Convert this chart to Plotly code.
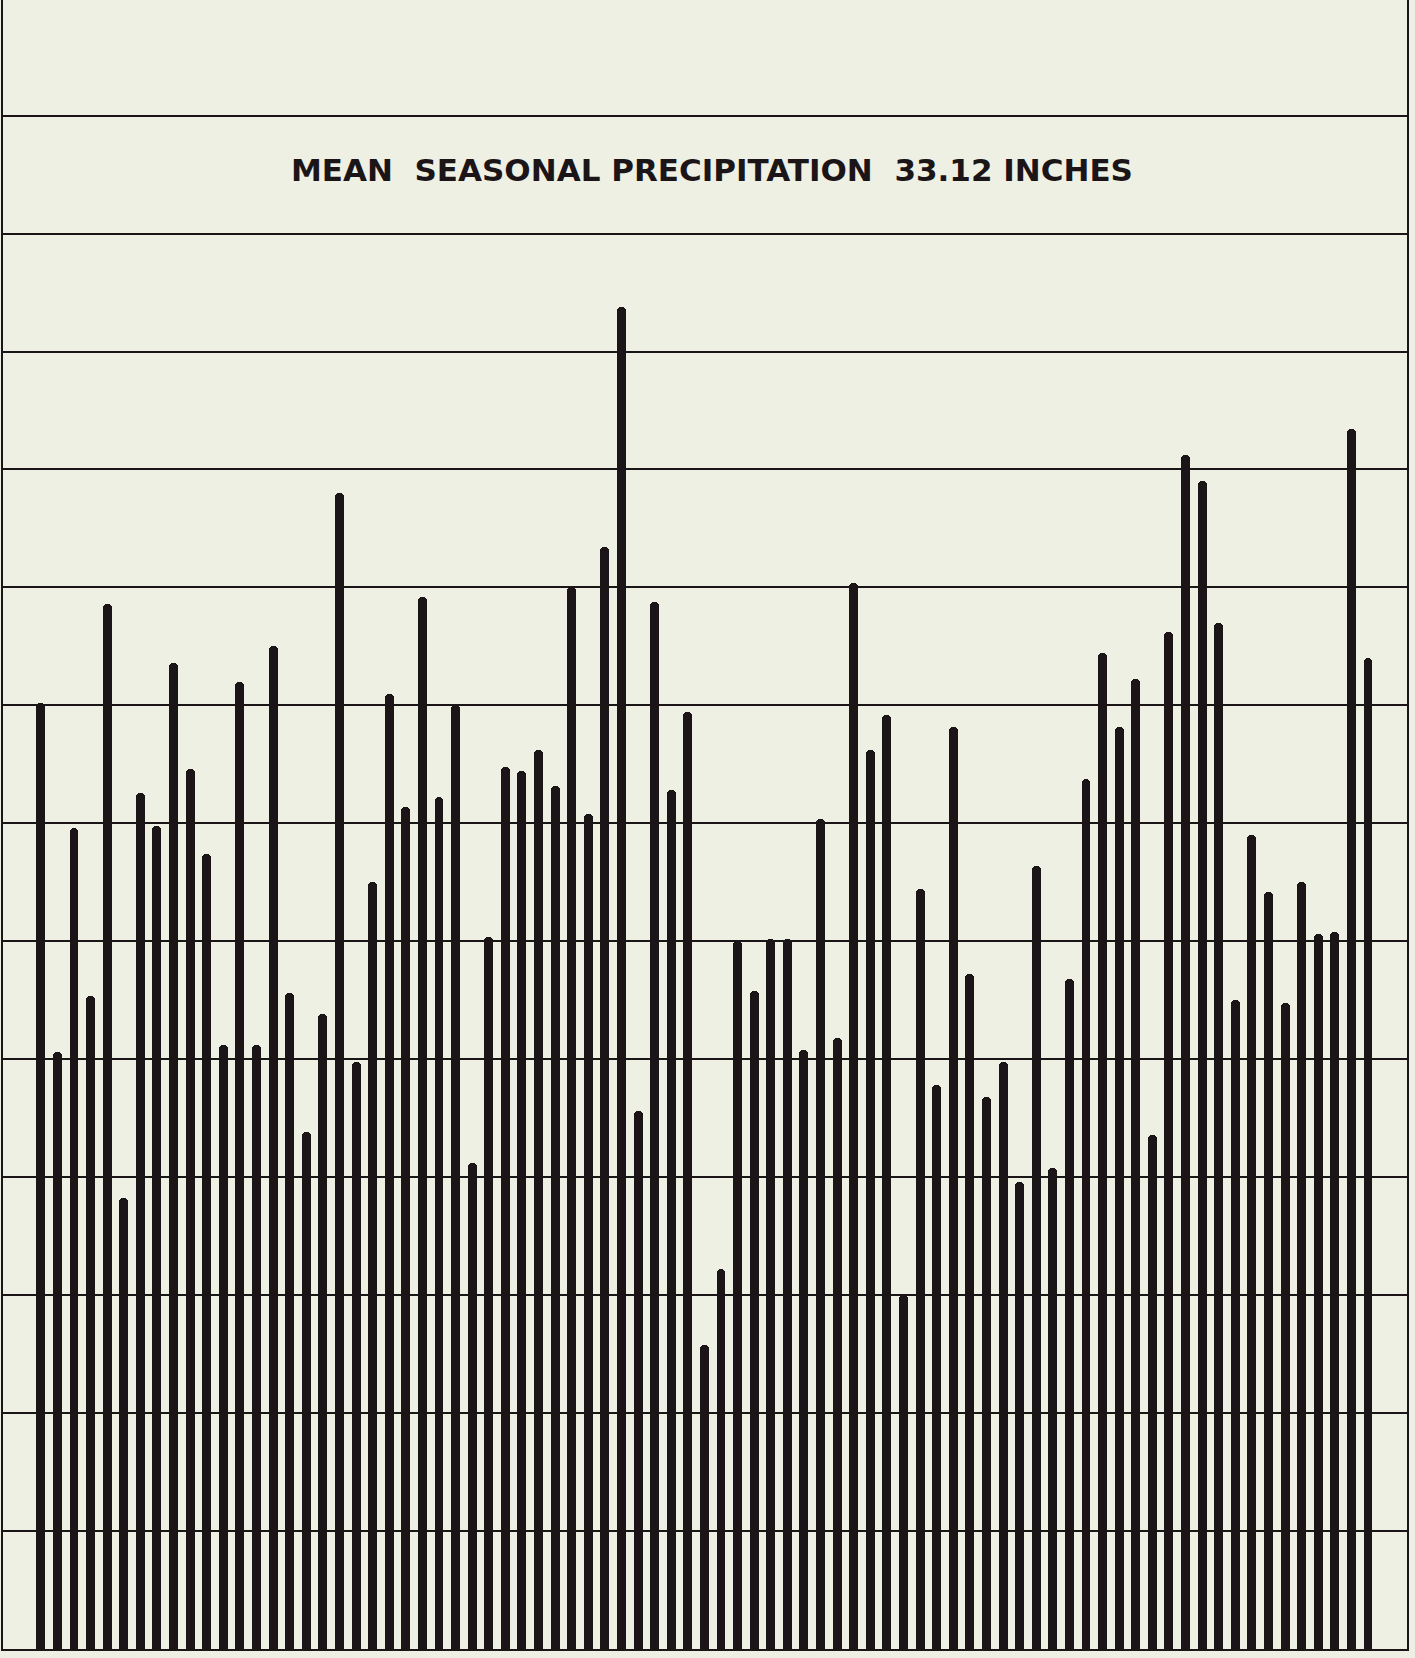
import plotly.graph_objects as go

# Seasonal precipitation (inches), one bar per season
seasons = list(range(1, 82))
precip = [
    40.1, 25.3, 34.8, 27.7, 44.3, 19.1, 36.3, 34.9, 41.8, 37.3,
    33.7, 25.6, 41.0, 25.6, 42.5, 27.8, 21.9, 26.9, 49.0, 24.9,
    32.5, 40.5, 35.7, 44.6, 36.1, 40.0, 20.6, 30.2, 37.4, 37.2,
    38.1, 36.6, 45.0, 35.4, 46.7, 56.9, 22.8, 44.4, 36.4, 39.7,
    12.9, 16.1, 30.0, 27.9, 30.1, 30.1, 25.4, 35.2, 25.9, 45.2,
    38.1, 39.6, 15.0, 32.2, 23.9, 39.1, 28.6, 23.4, 24.9, 19.8,
    33.2, 20.4, 28.4, 36.9, 42.2, 39.1, 41.1, 21.8, 43.1, 50.6,
    49.5, 43.5, 27.5, 34.5, 32.1, 27.4, 32.5, 30.3, 30.4, 51.7,
    42.0,
]
title_text = "MEAN\u00a0\u00a0SEASONAL PRECIPITATION\u00a0\u00a033.12 INCHES"

bg = "#EFF0E4"
ink = "#1B1517"

fig = go.Figure()
fig.add_trace(go.Bar(
    x=seasons, y=precip,
    width=0.54,
    marker=dict(color=ink, line=dict(width=0), cornerradius="50%"),
    hoverinfo="x+y",
))

fig.add_annotation(
    text=title_text, xref="paper", yref="y", x=0.505, y=62.7,
    showarrow=False, xanchor="center", yanchor="middle",
    font=dict(family="DejaVu Sans", size=31, color=ink, weight="bold"),
)

fig.update_layout(
    width=1415, height=1658,
    margin=dict(l=3, r=8, t=0, b=9, pad=0),
    paper_bgcolor=bg, plot_bgcolor=bg,
    showlegend=False,
    bargap=0,
    xaxis=dict(range=[-1.28, 83.35], showticklabels=False, ticks="",
               showgrid=False, zeroline=False,
               showline=True, linecolor=ink, linewidth=2, mirror=False),
    yaxis=dict(range=[0, 69.9], dtick=5, showticklabels=False, ticks="",
               showgrid=True, gridcolor=ink, gridwidth=2,
               zeroline=False,
               showline=True, linecolor=ink, linewidth=2, mirror=True),
)

fig.write_html(
    "out.html",
    config={"displayModeBar": False},
    post_script="document.body.style.margin='0';document.body.style.background='%s';" % bg,
)
